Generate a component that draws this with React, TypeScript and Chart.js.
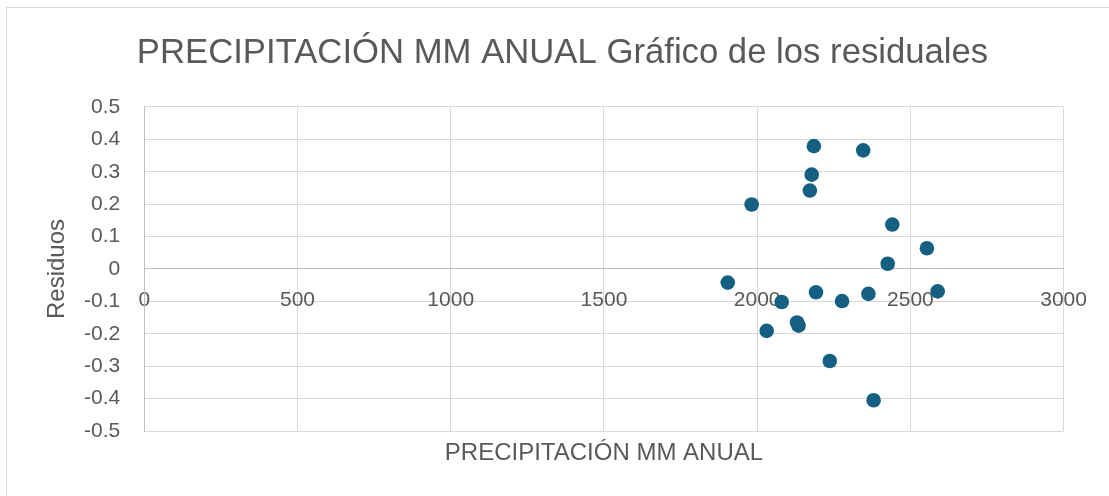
import React, { useEffect, useRef } from "react";
import { Chart, registerables } from "chart.js";

Chart.register(...registerables);

const chartTitle = "PRECIPITACIÓN MM ANUAL Gráfico de los residuales";
const xAxisTitle = "PRECIPITACIÓN MM ANUAL";
const yAxisTitle = "Residuos";

const precipitacion = [1904, 1982, 2080, 2031, 2130, 2135, 2172, 2178, 2185, 2192, 2237, 2277, 2346, 2363, 2380, 2426, 2441, 2554, 2589];
const residuos = [-0.042, 0.199, -0.102, -0.191, -0.165, -0.175, 0.242, 0.291, 0.379, -0.072, -0.284, -0.099, 0.366, -0.077, -0.405, 0.016, 0.137, 0.064, -0.069];

const xMin = 0;
const xMax = 3000;
const xStep = 500;
const yMin = -0.5;
const yMax = 0.5;
const yStep = 0.1;

const FONT = "'Liberation Sans', Arial, sans-serif";
const TEXT = "#595959";
const GRID = "#d9d9d9";
const AXIS = "#bfbfbf";
const POINT = "#156082";

export default function App() {
  const ref = useRef<HTMLCanvasElement | null>(null);

  useEffect(() => {
    if (!ref.current) return;
    const points = precipitacion.map((x, i) => ({ x, y: residuos[i] }));
    const chart = new Chart(ref.current, {
      type: "scatter",
      data: {
        datasets: [
          {
            label: "Residuos",
            data: points,
            backgroundColor: POINT,
            borderWidth: 0,
            pointRadius: 7.3,
            pointHoverRadius: 7.3,
          },
        ],
      },
      options: {
        animation: false,
        responsive: false,
        devicePixelRatio: 1,
        layout: { padding: { left: 26, right: 10, top: 10, bottom: 10 } },
        plugins: {
          legend: { display: false },
          tooltip: { enabled: false },
          title: {
            display: true,
            text: chartTitle,
            color: TEXT,
            font: { family: FONT, size: 34.7, weight: "normal" },
            padding: { top: 22.6, bottom: 32.7 },
          },
        },
        scales: {
          x: {
            type: "linear",
            min: xMin,
            max: xMax,
            position: { y: 0 },
            ticks: {
              stepSize: xStep,
              color: TEXT,
              font: { family: FONT, size: 21 },
              padding: 19,
              maxRotation: 0,
              callback: (v: any) => String(v),
            },
            grid: {
              color: (ctx: any) => (ctx.tick && ctx.tick.value === 0 ? AXIS : GRID),
              lineWidth: 1,
              drawTicks: false,
            },
            border: { display: true, color: AXIS, width: 1 },
          },
          xTitle: {
            type: "linear",
            axis: "x",
            position: "bottom",
            min: xMin,
            max: xMax,
            ticks: { display: false },
            grid: { display: false, drawTicks: false },
            border: { display: false },
            title: {
              display: true,
              text: xAxisTitle,
              color: TEXT,
              font: { family: FONT, size: 24 },
              padding: { top: 8.2, bottom: 18 },
            },
          },
          y: {
            type: "linear",
            min: yMin,
            max: yMax,
            position: "left",
            afterFit: (scale: any) => {
              scale.width = 118.3;
            },
            ticks: {
              stepSize: yStep,
              color: TEXT,
              font: { family: FONT, size: 21 },
              padding: 24,
              callback: (v: any) => String(Number(Number(v).toFixed(1)) || 0),
            },
            grid: {
              color: (ctx: any) => (ctx.tick && Math.abs(ctx.tick.value) < 1e-9 ? AXIS : GRID),
              lineWidth: 1,
              drawTicks: false,
            },
            border: { display: true, color: AXIS, width: 1 },
            title: {
              display: true,
              text: yAxisTitle,
              color: TEXT,
              font: { family: FONT, size: 24 },
              padding: { top: 16.8, bottom: 0 },
            },
          },
          ySpacer: {
            type: "linear",
            axis: "y",
            position: "right",
            min: yMin,
            max: yMax,
            afterFit: (scale: any) => {
              scale.width = 35.4;
            },
            ticks: { display: false },
            grid: { display: false, drawTicks: false },
            border: { display: false },
          },
        },
      },
    });
    return () => chart.destroy();
  }, []);

  return (
    <div>
      <div
        style={{
          position: "absolute",
          left: 6,
          top: 7,
          width: 1200,
          height: 600,
          borderLeft: `1px solid ${GRID}`,
          borderTop: `1px solid ${GRID}`,
        }}
      />
      <canvas
        ref={ref}
        width={1109}
        height={496}
        style={{ position: "absolute", left: 0, top: 0, width: 1109, height: 496, display: "block" }}
      />
    </div>
  );
}
